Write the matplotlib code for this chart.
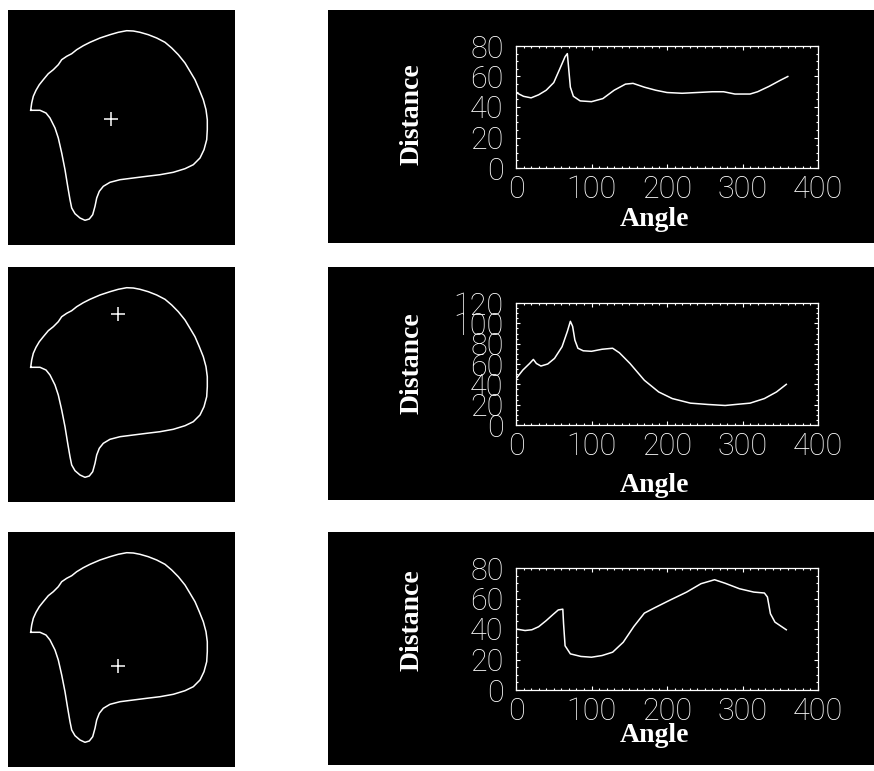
import matplotlib
matplotlib.use("Agg")
import matplotlib.pyplot as plt
from matplotlib.ticker import MultipleLocator

# ---------------- data ----------------
# contour outline (pixel units inside the left panels, y downward)
outline_x = [22.7, 23.7, 25.3, 28.0, 31.3, 35.3, 40.3, 45.3, 50.3, 53.7, 58.7, 63.7,
             68.7, 75.3, 82.0, 92.0, 102.0, 110.3, 118.7, 125.3, 132.0, 140.3, 148.7,
             157.0, 163.7, 170.3, 177.0, 182.0, 187.0, 191.3, 195.3, 198.0, 199.3,
             199.3, 198.7, 196.0, 192.0, 185.3, 177.0, 165.3, 152.0, 138.7, 125.3,
             112.0, 102.0, 95.3, 91.3, 88.7, 87.0, 84.7, 81.3, 77.0, 72.0, 67.0,
             63.7, 62.0, 59.7, 57.0, 53.7, 50.3, 47.0, 42.0, 38.0, 32.0, 22.7]
outline_y = [100.3, 93.0, 86.3, 80.3, 74.7, 69.7, 63.7, 59.7, 54.7, 49.7, 46.3, 43.7,
             39.7, 35.7, 32.3, 28.0, 24.7, 22.3, 20.7, 21.0, 22.3, 24.7, 28.0,
             32.3, 38.0, 44.7, 53.0, 61.3, 69.7, 79.7, 89.7, 99.7, 109.7,
             119.7, 129.7, 139.7, 148.0, 154.7, 158.7, 162.3, 164.7, 166.3, 168.0,
             169.7, 172.3, 176.3, 181.3, 188.0, 196.3, 204.7, 209.0, 210.3, 208.0, 203.7,
             198.0, 189.7, 176.3, 159.7, 143.0, 128.0, 118.0, 108.0, 103.0, 100.3, 100.3]

# centre (cross) positions for the three panels
cross_x = [103.0, 110.3, 110.3]
cross_y = [109.3, 47.3, 133.7]

# distance-vs-angle profiles
angle1 = [0, 10, 20, 30, 40, 50, 58, 65, 68, 70, 72, 76, 85, 100, 115, 130, 145, 155,
          170, 185, 200, 220, 240, 260, 275, 290, 310, 320, 335, 350, 360]
dist1 = [49.5, 47, 46, 48, 51, 56, 65, 73, 75, 64, 53, 47, 44, 43.5, 45.5, 51, 55, 55.5,
         53, 51, 49.5, 49, 49.5, 50, 50, 48.5, 48.5, 50, 53.5, 57.5, 60]

angle2 = [0, 9, 18, 23, 27, 33, 42, 51, 61, 68, 72, 75, 78, 82, 89, 100, 114, 128, 137,
          151, 170, 189, 207, 231, 254, 277, 291, 310, 329, 345, 358]
dist2 = [45.5, 54, 60.5, 64.5, 60.5, 58, 60, 65.5, 77, 92, 102, 97, 83.5, 75.5, 73, 72.5,
         74.5, 75.5, 71, 60.5, 44, 32.5, 26, 21.5, 20.2, 19.2, 20.2, 21.5, 26, 32.5, 40]

angle3 = [0, 12, 21, 30, 40, 49, 56, 62, 63, 65, 72, 86, 100, 114, 128, 142, 156, 170,
          184, 203, 226, 245, 263, 277, 296, 315, 329, 333, 337, 343, 358]
dist3 = [40, 39, 39.5, 41.5, 45.5, 49.5, 52.5, 53, 43.5, 29, 23.7, 22, 21.5, 22.6, 24.8,
         31.3, 41.6, 50.4, 54, 58.7, 64.2, 69.7, 72.3, 70, 66.4, 64.2, 63.6, 61, 50, 44.5, 39.5]

angles = [angle1, angle2, angle3]
dists = [dist1, dist2, dist3]
angle_ticks = [0, 100, 200, 300, 400]
dist_ticks = [[0, 20, 40, 60, 80], [0, 20, 40, 60, 80, 100, 120], [0, 20, 40, 60, 80]]
x_label = "Angle"
y_label = "Distance"

# ---------------- layout ----------------
W, H = 874, 771
fig = plt.figure(figsize=(W / 100, H / 100), dpi=100, facecolor="white")


def rect(x0, y0, x1, y1):
    return [x0 / W, 1 - y1 / H, (x1 - x0) / W, (y1 - y0) / H]


tops = [10, 267, 532]
left_bottoms = [245, 502, 767]
right_bottoms = [243, 500, 765]
dist_label_y = [114, 363, 620]
angle_label_y = [219, 486, 735]

for i in range(3):
    t = tops[i]
    # left image panel
    axl = fig.add_axes(rect(8, t, 235, left_bottoms[i]))
    axl.set_facecolor("black")
    axl.set_xlim(0, 227)
    axl.set_ylim(235, 0)
    axl.set_xticks([])
    axl.set_yticks([])
    for s in axl.spines.values():
        s.set_visible(False)
    axl.plot(outline_x, outline_y, color="white", lw=1.1)
    axl.plot([cross_x[i]], [cross_y[i]], marker="+", ms=10, mew=1.1, color="white")

    # right black background
    bg = fig.add_axes(rect(328, t, 874, right_bottoms[i]))
    bg.set_facecolor("black")
    bg.set_xticks([])
    bg.set_yticks([])
    for s in bg.spines.values():
        s.set_visible(False)

    # plot
    ax = fig.add_axes(rect(516, t + 36, 818, t + 158))
    ax.set_facecolor("black")
    ax.plot(angles[i], dists[i], color="white", lw=1.1)
    ax.set_xlim(angle_ticks[0], angle_ticks[-1])
    ax.set_ylim(dist_ticks[i][0], dist_ticks[i][-1])
    ax.set_xticks(angle_ticks, labels=[str(v) for v in angle_ticks],
                  fontfamily="Roboto", fontweight="light", fontsize=22)
    ax.set_yticks(dist_ticks[i], labels=[str(v) for v in dist_ticks[i]],
                  fontfamily="Roboto", fontweight="light", fontsize=22)
    ax.xaxis.set_minor_locator(MultipleLocator(10))
    ax.yaxis.set_minor_locator(MultipleLocator(5))
    ax.tick_params(which="both", direction="in", top=True, right=True,
                   color="white", labelcolor="white", width=0.8)
    ax.tick_params(which="major", length=3.2)
    ax.tick_params(which="minor", length=1.5)
    ax.tick_params(axis="x", pad=5.0)
    ax.tick_params(axis="y", pad=9.0)
    for s in ax.spines.values():
        s.set_color("white")
        s.set_linewidth(0.9)

    fig.text(412 / W, 1 - dist_label_y[i] / H, y_label, rotation=90, ha="center",
             va="center", color="white", fontfamily="Liberation Serif",
             fontweight="bold", fontsize=20)
    fig.text(655 / W, 1 - angle_label_y[i] / H, x_label, ha="center", va="center",
             color="white", fontfamily="Liberation Serif", fontweight="bold",
             fontsize=20)

fig.savefig("out.png", dpi=100, facecolor="white")
